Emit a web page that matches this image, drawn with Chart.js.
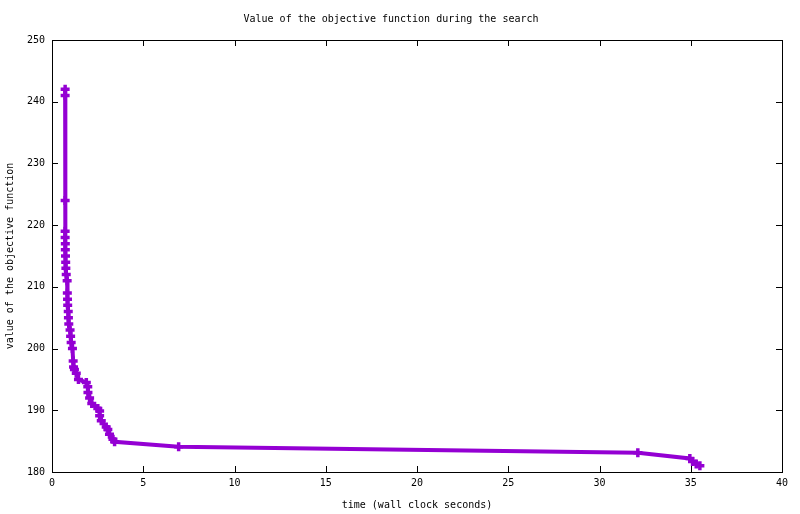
<!DOCTYPE html>
<html>
<head>
<meta charset="utf-8">
<title>Value of the objective function during the search</title>
<script src="https://cdn.jsdelivr.net/npm/chart.js@4/dist/chart.umd.min.js"></script>
<style>
  html, body { margin: 0; padding: 0; background: #fff; }
  canvas { display: block; }
</style>
</head>
<body>
<canvas id="myChart" width="800" height="514"></canvas>
<script>
// wall clock seconds
const times = [0.72, 0.72, 0.72, 0.72, 0.72, 0.73, 0.73, 0.74, 0.75, 0.76,
  0.78, 0.83, 0.84, 0.85, 0.86, 0.89, 0.90, 0.92, 0.99, 1.02,
  1.05, 1.12, 1.16, 1.18, 1.23, 1.33, 1.45, 1.88, 1.96, 1.97,
  2.06, 2.18, 2.51, 2.61, 2.61, 2.70, 2.97, 3.06, 3.15, 3.34,
  3.43, 6.94, 32.1, 34.95, 35.1, 35.3, 35.5];
// objective value at each time
const objective = [242, 241, 224, 219, 218, 217, 216, 215, 214, 213,
  212, 211, 209, 208, 207, 206, 205, 204, 203, 202,
  201, 200, 198, 197, 196.6, 196, 195, 194.5, 193.8, 192.9,
  192, 191.1, 190.3, 189.9, 189.1, 188.3, 187.3, 186.9, 186.1, 185.3,
  184.9, 184.1, 183.1, 182.2, 181.7, 181.3, 181.0];
const xTicks = [0, 5, 10, 15, 20, 25, 30, 35, 40];
const yTicks = [180, 190, 200, 210, 220, 230, 240, 250];

const FONT = { family: '"DejaVu Sans Mono", "Liberation Mono", monospace', size: 10, weight: 'normal' };

// gnuplot style border with inward ticks on all four sides
const frame = {
  id: 'frame',
  afterDraw(chart) {
    const { ctx, chartArea: a, scales } = chart;
    const t = 6;
    ctx.save();
    ctx.strokeStyle = '#000';
    ctx.lineWidth = 1;
    ctx.beginPath();
    xTicks.forEach(v => {
      const px = Math.round(scales.x.getPixelForValue(v)) + 0.5;
      ctx.moveTo(px, a.bottom); ctx.lineTo(px, a.bottom - t);
      ctx.moveTo(px, a.top); ctx.lineTo(px, a.top + t);
    });
    yTicks.forEach(v => {
      const py = Math.round(scales.y.getPixelForValue(v)) + 0.5;
      ctx.moveTo(a.left, py); ctx.lineTo(a.left + t, py);
      ctx.moveTo(a.right, py); ctx.lineTo(a.right - t, py);
    });
    ctx.stroke();
    ctx.strokeRect(Math.round(a.left) + 0.5, Math.round(a.top) + 0.5,
      Math.round(a.right - a.left), Math.round(a.bottom - a.top));
    ctx.restore();
  }
};

const ctx = document.getElementById('myChart').getContext('2d');
const myChart = new Chart(ctx, {
  type: 'line',
  data: {
    datasets: [
      {
        data: times.map((t, i) => ({ x: t, y: objective[i] })),
        borderColor: '#9400d3',
        backgroundColor: '#9400d3',
        borderWidth: 4,
        pointStyle: 'cross',
        pointRadius: 4.5,
        pointBorderWidth: 3.5,
        pointHoverRadius: 4.5,
        tension: 0,
        fill: false,
      },
    ],
  },
  options: {
    responsive: false,
    devicePixelRatio: 1,
    animation: false,
    layout: { padding: { left: 0, right: 18, top: 0, bottom: 0 } },
    plugins: {
      legend: { display: false },
      tooltip: { enabled: false },
      title: {
        display: true,
        text: 'Value of the objective function during the search',
        color: '#000',
        font: FONT,
        padding: { top: 13, bottom: 15 },
      },
    },
    scales: {
      x: {
        type: 'linear',
        min: 0,
        max: 40,
        grid: { display: false, drawTicks: false },
        border: { display: false },
        ticks: { stepSize: 5, color: '#000', font: FONT, padding: 5, maxRotation: 0 },
        title: {
          display: true,
          text: 'time (wall clock seconds)',
          color: '#000',
          font: FONT,
          padding: { top: 4, bottom: 3 },
        },
        afterFit: s => { s.height = 42; },
      },
      y: {
        min: 180,
        max: 250,
        grid: { display: false, drawTicks: false },
        border: { display: false },
        ticks: { stepSize: 10, color: '#000', font: FONT, padding: 7 },
        title: {
          display: true,
          text: 'value of the objective function',
          color: '#000',
          font: FONT,
          padding: { top: 4, bottom: 4 },
        },
        afterFit: s => { s.width = 52; },
      },
    },
  },
  plugins: [frame],
});
</script>
</body>
</html>
